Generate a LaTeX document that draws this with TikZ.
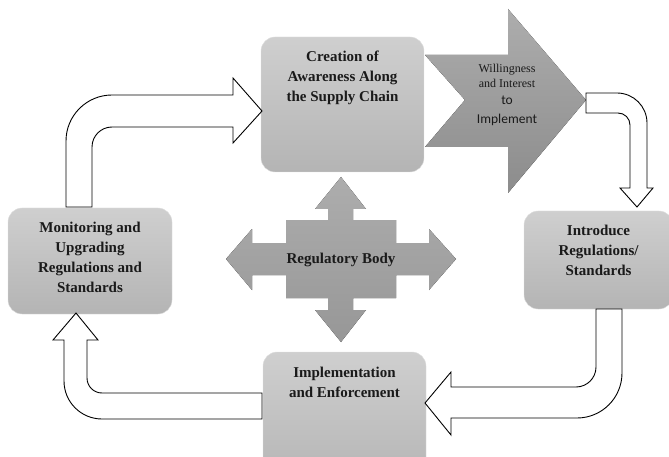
\documentclass[tikz,border=0pt]{standalone}
\usepackage{fontspec}
\setmainfont{Liberation Serif}
\newfontfamily\calfont{Carlito}
\usetikzlibrary{positioning}
\definecolor{cycle-boxtop}{HTML}{CFCFCF}
\definecolor{cycle-boxbot}{HTML}{B4B4B4}
\definecolor{cycle-regtop}{HTML}{ADADAD}
\definecolor{cycle-regbot}{HTML}{979797}
\definecolor{cycle-bigtop}{HTML}{ADADAD}
\definecolor{cycle-bigbot}{HTML}{8C8C8C}
\definecolor{cycle-text}{HTML}{1A1A1A}

\begin{document}
\begin{tikzpicture}[x=1pt, y=-1pt,
    box/.style={rectangle, rounded corners=14pt, draw=black!12, top color=cycle-boxtop, bottom color=cycle-boxbot, inner sep=0pt},
    boxtext/.style={align=center, font=\fontsize{15}{20}\selectfont\bfseries, text=cycle-text, inner sep=0pt},
    hollow/.style={draw=black, fill=white, line width=0.9pt, line join=miter},
]
    % Page area
    \useasboundingbox (0,0) rectangle (669,457);
    \clip (0,0) rectangle (669,457);

    % Big arrow (behind the top box)
    \fill[top color=cycle-bigtop, bottom color=cycle-bigbot]
        (425,55) -- (508,55) -- (508,9) -- (586,100) -- (508,193) -- (508,147) -- (425,147) -- (465,100) -- cycle;
    \node[font=\fontsize{12}{15}\selectfont, align=center, inner sep=0pt, text=cycle-text] (will) at (507,75.5) {Willingness\\and Interest};
    \node[font=\calfont\fontsize{13.5}{19}\selectfont, align=center, inner sep=0pt, text=cycle-text] (toimpl) at (507,110.5) {to\\Implement};

    % Stage boxes
    \node[box, minimum width=163pt, minimum height=135pt] (aware) at (342.5,104.5) {};
    \node[box, minimum width=164pt, minimum height=106pt] (monit) at (90,261) {};
    \node[box, minimum width=149pt, minimum height=98pt] (intro) at (598.5,260) {};
    \node[box, minimum width=163pt, minimum height=135pt] (enforce) at (344.5,419.5) {};

    \node[boxtext] (awaretxt) at (342.5,78) {Creation of\\Awareness Along\\the Supply Chain};
    \node[boxtext] (monittxt) at (90,257.5) {Monitoring and\\Upgrading\\Regulations and\\Standards};
    \node[boxtext] (introtxt) at (598.5,250) {Introduce\\Regulations/\\Standards};
    \node[boxtext] (enforcetxt) at (344.5,382) {Implementation\\and Enforcement};

    % Regulatory body (four-way arrow)
    \fill[top color=cycle-regtop, bottom color=cycle-regbot]
        (286,220) -- (328,220) -- (328,209) -- (315,209) -- (341,177) -- (366,209) -- (353,209) -- (353,220)
        -- (396,220) -- (396,243) -- (429,243) -- (429,229) -- (456,259) -- (429,290) -- (429,275) -- (396,275)
        -- (396,298) -- (353,298) -- (353,310) -- (366,310) -- (341,342) -- (315,310) -- (328,310) -- (328,298)
        -- (286,298) -- (286,275) -- (252,275) -- (252,290) -- (226,259) -- (252,229) -- (252,243) -- (286,243) -- cycle;
    \node[boxtext] (reg) at (341,260) {Regulatory Body};

    % Hollow arrows round the cycle
    \draw[hollow] (586,93) -- (617,93) arc[start angle=270, end angle=360, radius=30]
        -- (647,188) -- (653,188) -- (637,207) -- (620,188) -- (630,188) -- (630,125)
        arc[start angle=0, end angle=-90, radius=12] -- (586,113) -- cycle;
    \draw[hollow] (622,309) -- (622,373) arc[start angle=0, end angle=90, radius=45]
        -- (451,418) -- (451,435) -- (425,403) -- (451,372) -- (451,387) -- (576,387)
        arc[start angle=90, end angle=0, radius=20] -- (596,309) -- cycle;
    \draw[hollow] (262,419) -- (102,419) arc[start angle=90, end angle=180, radius=38]
        -- (64,340) -- (53,340) -- (76,313) -- (98,340) -- (87,340) -- (87,378)
        arc[start angle=180, end angle=90, radius=15] -- (262,393) -- cycle;
    \draw[hollow] (66,207) -- (66,141) arc[start angle=180, end angle=270, radius=46]
        -- (233,95) -- (233,78) -- (262,111) -- (233,143) -- (233,127) -- (112,127)
        arc[start angle=270, end angle=180, radius=20] -- (92,207) -- cycle;

\end{tikzpicture}
\end{document}
